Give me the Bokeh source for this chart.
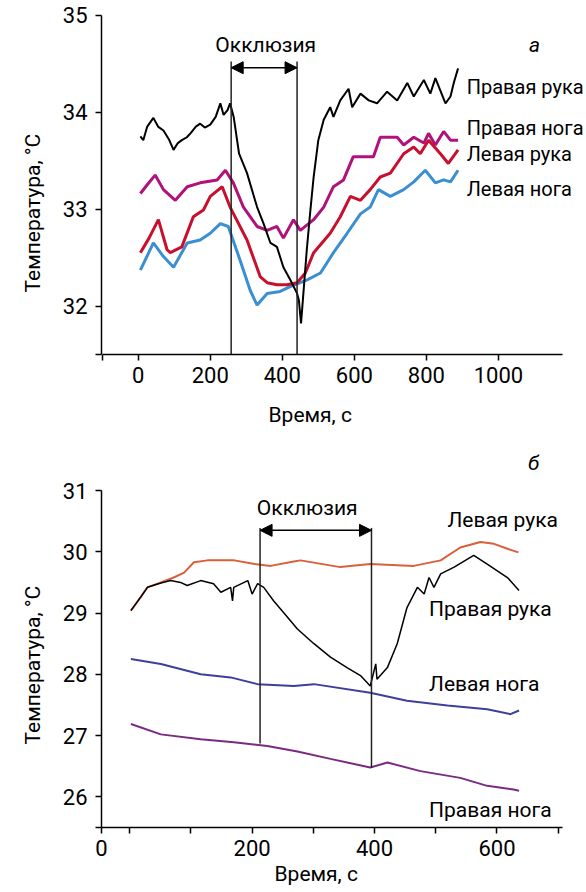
from bokeh.plotting import figure
from bokeh.layouts import column
from bokeh.models import Arrow, NormalHead, Label, FixedTicker, Range1d, Title
from bokeh.embed import file_html
from bokeh.resources import INLINE

FONT = "Roboto"

# ---------------- panel а ----------------
a_t_right_arm = [6, 14, 25, 42, 55, 70, 85, 98, 110, 121, 135, 145, 160, 172, 185, 200, 215, 228, 237, 248,
                 255, 265, 280, 302, 330, 348, 367, 385, 403, 422, 441, 446, 452, 460, 468, 477, 487, 500,
                 515, 533, 542, 561, 584, 594, 617, 640, 663, 691, 719, 747, 765, 793, 811, 825, 853, 867,
                 876, 888]
a_right_arm = [33.75, 33.71, 33.85, 33.94, 33.85, 33.81, 33.72, 33.61, 33.68, 33.71, 33.74, 33.78, 33.85,
               33.88, 33.84, 33.87, 33.95, 34.09, 33.97, 34.02, 34.09, 33.95, 33.57, 33.37, 33.02, 32.85,
               32.65, 32.61, 32.40, 32.27, 32.13, 32.06, 31.82, 32.20, 32.58, 32.95, 33.33, 33.71, 33.92,
               34.05, 33.95, 34.12, 34.24, 34.05, 34.19, 34.12, 34.09, 34.21, 34.12, 34.30, 34.16, 34.33,
               34.19, 34.35, 34.09, 34.16, 34.30, 34.45]

a_t_right_leg = [6, 25, 47, 70, 103, 136, 172, 219, 242, 264, 292, 330, 358, 385, 403, 431, 450, 487, 515,
                 542, 570, 597, 653, 672, 719, 737, 765, 793, 806, 825, 848, 867, 888]
a_right_leg = [33.16, 33.25, 33.35, 33.20, 33.09, 33.23, 33.27, 33.30, 33.40, 33.27, 33.02, 32.82, 32.78,
               32.82, 32.70, 32.89, 32.78, 32.89, 33.02, 33.23, 33.30, 33.54, 33.54, 33.74, 33.74, 33.66,
               33.74, 33.68, 33.78, 33.66, 33.80, 33.71, 33.71]

a_t_left_arm = [6, 30, 56, 80, 89, 121, 153, 181, 200, 233, 255, 302, 339, 358, 385, 413, 441, 464, 487,
                533, 561, 589, 617, 644, 672, 700, 737, 765, 783, 806, 839, 861, 888]
a_left_arm = [32.55, 32.70, 32.89, 32.58, 32.55, 32.61, 32.92, 32.99, 33.13, 33.23, 33.02, 32.68, 32.30,
              32.24, 32.22, 32.22, 32.24, 32.34, 32.55, 32.75, 32.92, 33.13, 33.09, 33.20, 33.33, 33.37,
              33.57, 33.64, 33.57, 33.71, 33.57, 33.47, 33.61]

a_t_left_leg = [6, 42, 70, 98, 136, 172, 200, 228, 250, 283, 311, 330, 358, 394, 422, 469, 506, 542, 580,
                617, 644, 667, 700, 737, 765, 797, 825, 848, 867, 888]
a_left_leg = [32.37, 32.65, 32.51, 32.40, 32.65, 32.68, 32.75, 32.85, 32.82, 32.47, 32.16, 32.01, 32.13,
              32.15, 32.20, 32.27, 32.34, 32.55, 32.75, 32.95, 33.02, 33.20, 33.13, 33.20, 33.28, 33.40,
              33.27, 33.30, 33.28, 33.40]

a_occlusion = [258, 441]
a_x_ticks = [-100, 0, 200, 400, 600, 800, 1000]
a_y_ticks = [31.5, 32, 33, 34, 35]

# ---------------- panel б ----------------
b_t_left_arm = [2, 18, 29, 51, 72, 89, 105, 127, 171, 204, 230, 268, 279, 344, 393, 464, 508, 540, 573,
                595, 617, 635]
b_left_arm = [29.04, 29.26, 29.42, 29.50, 29.58, 29.66, 29.83, 29.86, 29.86, 29.80, 29.77, 29.84, 29.86,
              29.75, 29.80, 29.77, 29.86, 30.07, 30.16, 30.13, 30.05, 29.99]

b_t_right_arm = [2, 18, 29, 51, 67, 83, 94, 116, 137, 149, 165, 168, 170, 193, 200, 209, 219, 235, 252,
                 274, 301, 328, 355, 377, 393, 402, 404, 421, 437, 453, 470, 481, 489, 497, 508, 530, 562,
                 584, 617, 636]
b_right_arm = [29.04, 29.26, 29.42, 29.49, 29.53, 29.50, 29.45, 29.53, 29.48, 29.34, 29.42, 29.20, 29.42,
               29.53, 29.31, 29.48, 29.42, 29.20, 29.00, 28.74, 28.50, 28.28, 28.11, 27.98, 27.81, 28.17,
               27.92, 28.11, 28.50, 29.09, 29.42, 29.31, 29.58, 29.42, 29.64, 29.75, 29.94, 29.80, 29.58,
               29.37]

b_t_left_leg = [2, 51, 116, 165, 209, 268, 301, 393, 453, 519, 584, 622, 636]
b_left_leg = [28.25, 28.17, 28.00, 27.95, 27.84, 27.81, 27.84, 27.70, 27.57, 27.49, 27.43, 27.35, 27.41]

b_t_right_leg = [2, 51, 116, 170, 225, 274, 328, 393, 421, 475, 540, 584, 627, 636]
b_right_leg = [27.19, 27.02, 26.94, 26.89, 26.83, 26.74, 26.62, 26.48, 26.56, 26.42, 26.31, 26.18, 26.12,
               26.10]

b_occlusion = [213, 395]
b_occlusion_bottom = [26.87, 26.47]
b_x_ticks = [-46, 0, 100, 200, 300, 400, 500, 600, 700]
b_y_ticks = [25.5, 26, 27, 28, 29, 30, 31]

SIZE = "21px"
X_TITLE = "Время, с"
Y_TITLE = "Температура, °С"


def style(p, xticks, yticks, xover, yover, xb, yb):
    p.outline_line_color = None
    p.grid.visible = False
    p.background_fill_color = "white"
    p.border_fill_color = "white"
    for ax in (p.xaxis[0], p.yaxis[0]):
        ax.axis_line_color = "black"
        ax.axis_line_width = 1.5
        ax.major_tick_line_color = "black"
        ax.major_tick_line_width = 1.5
        ax.major_tick_in = 0
        ax.major_tick_out = 6
        ax.minor_tick_line_color = None
        ax.major_label_text_font = FONT
        ax.major_label_text_font_size = "22px"
        ax.major_label_text_color = "black"
    p.xaxis[0].ticker = FixedTicker(ticks=xticks)
    p.yaxis[0].ticker = FixedTicker(ticks=yticks)
    p.xaxis[0].major_label_overrides = xover
    p.yaxis[0].major_label_overrides = yover
    p.xaxis[0].bounds = xb
    p.yaxis[0].bounds = yb
    p.xaxis[0].major_label_standoff = 6
    p.yaxis[0].major_label_standoff = 8


def title(p, text, side, offset, standoff):
    p.add_layout(Title(text=text, align="left", offset=offset, standoff=standoff, text_font=FONT,
                       text_font_size=SIZE, text_font_style="normal", text_color="black"), side)


def txt(p, x, y, s, align="left", size=SIZE, style_="normal"):
    p.add_layout(Label(x=x, y=y, text=s, text_font=FONT, text_font_size=size, text_align=align,
                       text_baseline="middle", text_color="black", text_font_style=style_))


# ---------- figure а ----------
pa = figure(frame_width=485, frame_height=354, x_range=Range1d(-102, 1244.6), y_range=Range1d(31.5, 35.15),
            output_backend="svg", toolbar_location=None,
            min_border_left=101, min_border_right=0, min_border_top=0, min_border_bottom=94)
style(pa, a_x_ticks, a_y_ticks, {-100: ""}, {31.5: ""}, (-100, 1178), (31.5, 35))
title(pa, X_TITLE, "below", 167, 30)
title(pa, Y_TITLE, "left", 62, 30)

pa.line(a_t_left_leg, a_left_leg, line_color="#3a8fd2", line_width=3)
pa.line(a_t_left_arm, a_left_arm, line_color="#c8102e", line_width=3)
pa.line(a_t_right_leg, a_right_leg, line_color="#b0127c", line_width=3)
pa.line(a_t_right_arm, a_right_arm, line_color="black", line_width=2)

pa.segment(x0=a_occlusion, y0=[31.5, 31.5], x1=a_occlusion, y1=[34.52, 34.52],
           line_color="#222222", line_width=1.5)
pa.add_layout(Arrow(start=NormalHead(size=12, fill_color="black", line_color="black"),
                    end=NormalHead(size=12, fill_color="black", line_color="black"),
                    x_start=a_occlusion[0], y_start=34.457, x_end=a_occlusion[1], y_end=34.457,
                    line_color="black", line_width=1.5))
txt(pa, 354, 34.69, "Окклюзия", align="center")
txt(pa, 1100, 34.69, "а", align="center", style_="italic")
txt(pa, 912, 34.26, "Правая рука", size="20px")
txt(pa, 912, 33.84, "Правая нога", size="20px")
txt(pa, 912, 33.57, "Левая рука", size="20px")
txt(pa, 912, 33.21, "Левая нога", size="20px")

# ---------- figure б ----------
pb = figure(frame_width=461, frame_height=379, x_range=Range1d(-46, 707), y_range=Range1d(25.5, 31.686),
            output_backend="svg", toolbar_location=None,
            min_border_left=101, min_border_right=24, min_border_top=0, min_border_bottom=65)
style(pb, b_x_ticks, b_y_ticks, {-46: "0", 0: "", 100: "", 300: "", 500: "", 700: ""}, {25.5: ""},
      (-46, 707), (25.5, 31))
title(pb, X_TITLE, "below", 173, 2)
title(pb, Y_TITLE, "left", 83, 30)

pb.line(b_t_right_leg, b_right_leg, line_color="#7b2a83", line_width=2)
pb.line(b_t_left_leg, b_left_leg, line_color="#3d3f9c", line_width=2)
pb.line(b_t_left_arm, b_left_arm, line_color="#d9603b", line_width=2)
pb.line(b_t_right_arm, b_right_arm, line_color="black", line_width=1.5)

pb.segment(x0=b_occlusion, y0=b_occlusion_bottom, x1=b_occlusion, y1=[30.39, 30.39],
           line_color="#222222", line_width=1.5)
pb.add_layout(Arrow(start=NormalHead(size=12, fill_color="black", line_color="black"),
                    end=NormalHead(size=12, fill_color="black", line_color="black"),
                    x_start=b_occlusion[0], y_start=30.35, x_end=b_occlusion[1], y_end=30.35,
                    line_color="black", line_width=1.5))
txt(pb, 290, 30.71, "Окклюзия", align="center")
txt(pb, 660, 31.45, "б", align="center", style_="italic")
txt(pb, 519, 30.52, "Левая рука")
txt(pb, 489, 29.06, "Правая рука")
txt(pb, 489, 27.85, "Левая нога")
txt(pb, 489, 25.79, "Правая нога")

layout = column(pa, pb, spacing=0)
open("out.html", "w").write(file_html(layout, INLINE))
